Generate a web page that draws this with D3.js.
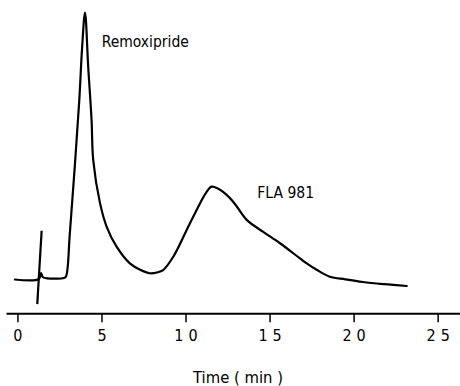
<!DOCTYPE html>
<html><head><meta charset="utf-8">
<script src="https://cdn.jsdelivr.net/npm/d3@7"></script>
<style>
html,body{margin:0;padding:0;background:#fff;}
svg{display:block;}
.lbl{font-family:"Liberation Sans Narrow","DejaVu Sans Condensed","Liberation Sans",sans-serif;fill:#000;}
</style></head>
<body>
<script>
// Chromatogram trace (time in min, detector response in arbitrary units)
const traceTime = [-0.15, 1.28, 1.40, 1.52, 1.76, 2.77, 2.89, 3.12, 3.68, 3.84, 4.02, 4.21, 4.41, 4.51, 4.91, 5.31, 5.90, 6.69, 7.30, 7.88, 8.30, 8.67, 9.27, 10.07, 10.86, 11.21, 11.55, 11.93, 12.45, 12.94, 13.64, 14.62, 15.62, 16.81, 17.21, 17.80, 18.59, 19.50, 20.56, 21.80, 23.16];
const traceSignal = [-0.45, -0.26, 2.0, 0.4, 0.0, 0.1, 0.7, 17.1, 67.1, 86.0, 100, 79.7, 59.6, 44.5, 28.4, 19.4, 11.9, 5.6, 3.2, 1.9, 2.2, 3.1, 8.1, 18.2, 28.2, 32.1, 34.5, 33.8, 31.4, 28.0, 22.0, 17.5, 13.2, 7.5, 5.6, 3.2, 0.6, -0.4, -1.4, -2.2, -2.9];
// Injection marker
const injTime = [1.18, 1.44];
const injSignal = [-9.7, 17.9];
// Peak labels
const peakNames = ["Remoxipride", "FLA 981"];
const peakLabelTime = [5.01, 14.27];
const peakLabelSignal = [87.2, 30.1];
// Axis ticks
const tickValues = [0, 5, 10, 15, 20, 25];
const xTitle = "Time ( min )";

const W = 460, H = 386;
const svg = d3.select("body").append("svg").attr("width", W).attr("height", H);

const x = d3.scaleLinear().domain([-0.68, 26.33]).range([6, 460]);
const y = d3.scaleLinear().domain([0, 100]).range([278.3, 12.7]);
const axisY = 313.3;

const trace = traceTime.map((t, i) => [t, traceSignal[i]]);
const inj = injTime.map((t, i) => [t, injSignal[i]]);

const line = d3.line().x(d => x(d[0])).y(d => y(d[1])).curve(d3.curveCatmullRom.alpha(0.5));
svg.append("path").datum(trace).attr("d", line)
  .attr("fill", "none").attr("stroke", "#000").attr("stroke-width", 2.2)
  .attr("stroke-linejoin", "round").attr("stroke-linecap", "round");

svg.append("path").datum(inj).attr("d", d3.line().x(d => x(d[0])).y(d => y(d[1])))
  .attr("fill", "none").attr("stroke", "#000").attr("stroke-width", 2.2);

// Axis
const axis = d3.axisBottom(x).tickValues(tickValues).tickSize(9).tickSizeOuter(0).tickPadding(7)
  .tickFormat(d3.format("d"));
const gx = svg.append("g").attr("transform", `translate(0,${axisY})`).call(axis);
gx.select(".domain").attr("stroke", "#000").attr("stroke-width", 2);
gx.selectAll(".tick line").attr("stroke", "#000").attr("stroke-width", 1.5);
gx.selectAll(".tick text").attr("class", "lbl").attr("font-size", 16)
  .style("letter-spacing", "5px").attr("dx", "2.5px");

svg.append("text").attr("class", "lbl").attr("x", 238).attr("y", 382.7)
  .attr("text-anchor", "middle").attr("font-size", 16.5).text(xTitle);

svg.selectAll(".peak").data(peakNames).enter().append("text")
  .attr("class", "lbl peak")
  .attr("x", (d, i) => x(peakLabelTime[i]))
  .attr("y", (d, i) => y(peakLabelSignal[i]))
  .attr("font-size", 15.5).text(d => d);
</script>
</body></html>
